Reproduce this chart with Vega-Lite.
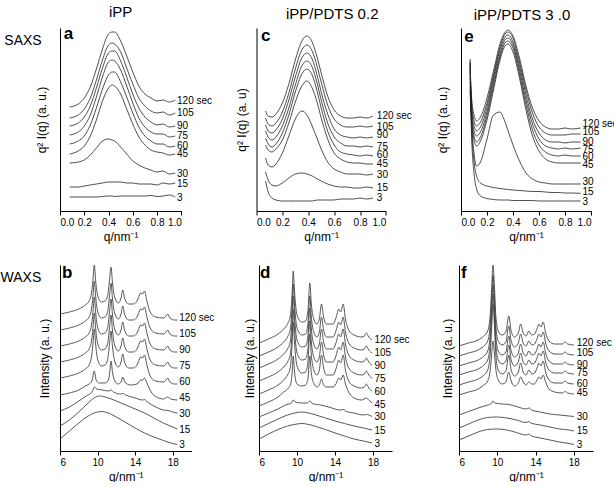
{
"$schema": "https://vega.github.io/schema/vega-lite/v6.json",
"padding": {"top": 5, "left": 0, "right": 0, "bottom": 0},
"spacing": 21,
"config": {
 "view": {"stroke": null},
 "font": "Liberation Sans",
 "axis": {"grid": false, "domainColor": "#000", "tickColor": "#000", "labelColor": "#000", "titleColor": "#000", "labelFontSize": 10, "titleFontSize": 12, "titleFontWeight": "normal", "tickSize": 4, "labelPadding": 2},
 "title": {"fontSize": 15, "fontWeight": "normal", "color": "#000", "offset": 5},
 "text": {"color": "#000"}
},
"datasets": {
"d": [
{"s":"a120","q":0.08,"y":104},{"s":"a120","q":0.15,"y":107},{"s":"a120","q":0.2,"y":113},{"s":"a120","q":0.25,"y":124},{"s":"a120","q":0.3,"y":142},{"s":"a120","q":0.35,"y":162},{"s":"a120","q":0.4,"y":177},{"s":"a120","q":0.43,"y":179},{"s":"a120","q":0.45,"y":179},{"s":"a120","q":0.5,"y":170},{"s":"a120","q":0.55,"y":155},{"s":"a120","q":0.6,"y":139},{"s":"a120","q":0.65,"y":125},{"s":"a120","q":0.7,"y":117},{"s":"a120","q":0.75,"y":113},{"s":"a120","q":0.8,"y":110},{"s":"a120","q":0.85,"y":111},{"s":"a120","q":0.9,"y":109},{"s":"a120","q":0.95,"y":111},
{"s":"a105","q":0.08,"y":93},{"s":"a105","q":0.15,"y":96},{"s":"a105","q":0.2,"y":102},{"s":"a105","q":0.25,"y":113},{"s":"a105","q":0.3,"y":131},{"s":"a105","q":0.35,"y":151},{"s":"a105","q":0.4,"y":166},{"s":"a105","q":0.43,"y":168},{"s":"a105","q":0.45,"y":167},{"s":"a105","q":0.5,"y":159},{"s":"a105","q":0.55,"y":143},{"s":"a105","q":0.6,"y":127},{"s":"a105","q":0.65,"y":113},{"s":"a105","q":0.7,"y":105},{"s":"a105","q":0.75,"y":100},{"s":"a105","q":0.8,"y":98},{"s":"a105","q":0.85,"y":99},{"s":"a105","q":0.9,"y":96},{"s":"a105","q":0.95,"y":98},
{"s":"a90","q":0.08,"y":85},{"s":"a90","q":0.15,"y":88},{"s":"a90","q":0.2,"y":94},{"s":"a90","q":0.25,"y":105},{"s":"a90","q":0.3,"y":123},{"s":"a90","q":0.35,"y":143},{"s":"a90","q":0.4,"y":158},{"s":"a90","q":0.43,"y":160},{"s":"a90","q":0.45,"y":160},{"s":"a90","q":0.5,"y":150},{"s":"a90","q":0.55,"y":134},{"s":"a90","q":0.6,"y":117},{"s":"a90","q":0.65,"y":103},{"s":"a90","q":0.7,"y":94},{"s":"a90","q":0.75,"y":89},{"s":"a90","q":0.8,"y":86},{"s":"a90","q":0.85,"y":87},{"s":"a90","q":0.9,"y":84},{"s":"a90","q":0.95,"y":85},
{"s":"a75","q":0.08,"y":76},{"s":"a75","q":0.15,"y":79},{"s":"a75","q":0.2,"y":85},{"s":"a75","q":0.25,"y":96},{"s":"a75","q":0.3,"y":114},{"s":"a75","q":0.35,"y":134},{"s":"a75","q":0.4,"y":149},{"s":"a75","q":0.43,"y":151},{"s":"a75","q":0.45,"y":150},{"s":"a75","q":0.5,"y":141},{"s":"a75","q":0.55,"y":125},{"s":"a75","q":0.6,"y":108},{"s":"a75","q":0.65,"y":93},{"s":"a75","q":0.7,"y":84},{"s":"a75","q":0.75,"y":79},{"s":"a75","q":0.8,"y":77},{"s":"a75","q":0.85,"y":77},{"s":"a75","q":0.9,"y":74},{"s":"a75","q":0.95,"y":75},
{"s":"a60","q":0.08,"y":67},{"s":"a60","q":0.15,"y":70},{"s":"a60","q":0.2,"y":75},{"s":"a60","q":0.25,"y":86},{"s":"a60","q":0.3,"y":103},{"s":"a60","q":0.35,"y":122},{"s":"a60","q":0.4,"y":136},{"s":"a60","q":0.43,"y":139},{"s":"a60","q":0.45,"y":139},{"s":"a60","q":0.5,"y":129},{"s":"a60","q":0.55,"y":114},{"s":"a60","q":0.6,"y":98},{"s":"a60","q":0.65,"y":84},{"s":"a60","q":0.7,"y":75},{"s":"a60","q":0.75,"y":70},{"s":"a60","q":0.8,"y":67},{"s":"a60","q":0.85,"y":67},{"s":"a60","q":0.9,"y":64},{"s":"a60","q":0.95,"y":65},
{"s":"a45","q":0.08,"y":57},{"s":"a45","q":0.15,"y":60},{"s":"a45","q":0.2,"y":65},{"s":"a45","q":0.25,"y":75},{"s":"a45","q":0.3,"y":91},{"s":"a45","q":0.35,"y":110},{"s":"a45","q":0.4,"y":123},{"s":"a45","q":0.43,"y":126},{"s":"a45","q":0.45,"y":125},{"s":"a45","q":0.5,"y":117},{"s":"a45","q":0.55,"y":102},{"s":"a45","q":0.6,"y":87},{"s":"a45","q":0.65,"y":74},{"s":"a45","q":0.7,"y":66},{"s":"a45","q":0.75,"y":61},{"s":"a45","q":0.8,"y":59},{"s":"a45","q":0.85,"y":58},{"s":"a45","q":0.9,"y":56},{"s":"a45","q":0.95,"y":57},
{"s":"a30","q":0.08,"y":48},{"s":"a30","q":0.15,"y":49},{"s":"a30","q":0.2,"y":51},{"s":"a30","q":0.25,"y":56},{"s":"a30","q":0.3,"y":63},{"s":"a30","q":0.35,"y":70},{"s":"a30","q":0.4,"y":72},{"s":"a30","q":0.43,"y":71},{"s":"a30","q":0.45,"y":70},{"s":"a30","q":0.5,"y":64},{"s":"a30","q":0.55,"y":57},{"s":"a30","q":0.6,"y":50},{"s":"a30","q":0.65,"y":46},{"s":"a30","q":0.7,"y":43},{"s":"a30","q":0.75,"y":41},{"s":"a30","q":0.8,"y":39},{"s":"a30","q":0.85,"y":40},{"s":"a30","q":0.9,"y":37},{"s":"a30","q":0.95,"y":38},
{"s":"a15","q":0.08,"y":24},{"s":"a15","q":0.15,"y":24},{"s":"a15","q":0.2,"y":25},{"s":"a15","q":0.25,"y":26},{"s":"a15","q":0.3,"y":27},{"s":"a15","q":0.35,"y":28},{"s":"a15","q":0.4,"y":29},{"s":"a15","q":0.43,"y":29},{"s":"a15","q":0.45,"y":29},{"s":"a15","q":0.5,"y":29},{"s":"a15","q":0.55,"y":28},{"s":"a15","q":0.6,"y":28},{"s":"a15","q":0.65,"y":27},{"s":"a15","q":0.7,"y":27},{"s":"a15","q":0.75,"y":27},{"s":"a15","q":0.8,"y":26},{"s":"a15","q":0.85,"y":28},{"s":"a15","q":0.9,"y":27},{"s":"a15","q":0.95,"y":28},
{"s":"a3","q":0.08,"y":14},{"s":"a3","q":0.15,"y":14},{"s":"a3","q":0.2,"y":14},{"s":"a3","q":0.25,"y":14},{"s":"a3","q":0.3,"y":14},{"s":"a3","q":0.35,"y":14.5},{"s":"a3","q":0.4,"y":15},{"s":"a3","q":0.43,"y":15},{"s":"a3","q":0.45,"y":14.5},{"s":"a3","q":0.5,"y":15},{"s":"a3","q":0.55,"y":15},{"s":"a3","q":0.6,"y":15},{"s":"a3","q":0.65,"y":15},{"s":"a3","q":0.7,"y":15},{"s":"a3","q":0.75,"y":15.5},{"s":"a3","q":0.8,"y":14.5},{"s":"a3","q":0.85,"y":15},{"s":"a3","q":0.9,"y":16},{"s":"a3","q":0.95,"y":14},
{"s":"c120","q":0.07,"y":100},{"s":"c120","q":0.09,"y":95},{"s":"c120","q":0.12,"y":94},{"s":"c120","q":0.15,"y":97},{"s":"c120","q":0.2,"y":108},{"s":"c120","q":0.25,"y":127},{"s":"c120","q":0.3,"y":151},{"s":"c120","q":0.35,"y":170},{"s":"c120","q":0.39,"y":175},{"s":"c120","q":0.43,"y":169},{"s":"c120","q":0.47,"y":153},{"s":"c120","q":0.5,"y":138},{"s":"c120","q":0.55,"y":115},{"s":"c120","q":0.6,"y":101},{"s":"c120","q":0.65,"y":95},{"s":"c120","q":0.7,"y":93},{"s":"c120","q":0.75,"y":93},{"s":"c120","q":0.8,"y":94},{"s":"c120","q":0.85,"y":93},{"s":"c120","q":0.9,"y":95},
{"s":"c105","q":0.07,"y":93},{"s":"c105","q":0.09,"y":87},{"s":"c105","q":0.12,"y":85},{"s":"c105","q":0.15,"y":88},{"s":"c105","q":0.2,"y":99},{"s":"c105","q":0.25,"y":118},{"s":"c105","q":0.3,"y":142},{"s":"c105","q":0.35,"y":161},{"s":"c105","q":0.39,"y":166},{"s":"c105","q":0.43,"y":160},{"s":"c105","q":0.47,"y":144},{"s":"c105","q":0.5,"y":129},{"s":"c105","q":0.55,"y":106},{"s":"c105","q":0.6,"y":92},{"s":"c105","q":0.65,"y":86},{"s":"c105","q":0.7,"y":84},{"s":"c105","q":0.75,"y":84},{"s":"c105","q":0.8,"y":85},{"s":"c105","q":0.85,"y":84},{"s":"c105","q":0.9,"y":85},
{"s":"c90","q":0.07,"y":86},{"s":"c90","q":0.09,"y":80},{"s":"c90","q":0.12,"y":78},{"s":"c90","q":0.15,"y":81},{"s":"c90","q":0.2,"y":92},{"s":"c90","q":0.25,"y":111},{"s":"c90","q":0.3,"y":134},{"s":"c90","q":0.35,"y":153},{"s":"c90","q":0.39,"y":158},{"s":"c90","q":0.43,"y":152},{"s":"c90","q":0.47,"y":135},{"s":"c90","q":0.5,"y":119},{"s":"c90","q":0.55,"y":97},{"s":"c90","q":0.6,"y":82},{"s":"c90","q":0.65,"y":76},{"s":"c90","q":0.7,"y":74},{"s":"c90","q":0.75,"y":73},{"s":"c90","q":0.8,"y":74},{"s":"c90","q":0.85,"y":73},{"s":"c90","q":0.9,"y":74},
{"s":"c75","q":0.07,"y":80},{"s":"c75","q":0.09,"y":74},{"s":"c75","q":0.12,"y":71},{"s":"c75","q":0.15,"y":74},{"s":"c75","q":0.2,"y":85},{"s":"c75","q":0.25,"y":103},{"s":"c75","q":0.3,"y":126},{"s":"c75","q":0.35,"y":145},{"s":"c75","q":0.39,"y":150},{"s":"c75","q":0.43,"y":144},{"s":"c75","q":0.47,"y":127},{"s":"c75","q":0.5,"y":111},{"s":"c75","q":0.55,"y":88},{"s":"c75","q":0.6,"y":74},{"s":"c75","q":0.65,"y":68},{"s":"c75","q":0.7,"y":65},{"s":"c75","q":0.75,"y":65},{"s":"c75","q":0.8,"y":64},{"s":"c75","q":0.85,"y":65},{"s":"c75","q":0.9,"y":64},
{"s":"c60","q":0.07,"y":73},{"s":"c60","q":0.09,"y":67},{"s":"c60","q":0.12,"y":64},{"s":"c60","q":0.15,"y":67},{"s":"c60","q":0.2,"y":78},{"s":"c60","q":0.25,"y":96},{"s":"c60","q":0.3,"y":119},{"s":"c60","q":0.35,"y":137},{"s":"c60","q":0.39,"y":142},{"s":"c60","q":0.43,"y":136},{"s":"c60","q":0.47,"y":119},{"s":"c60","q":0.5,"y":103},{"s":"c60","q":0.55,"y":80},{"s":"c60","q":0.6,"y":66},{"s":"c60","q":0.65,"y":59},{"s":"c60","q":0.7,"y":57},{"s":"c60","q":0.75,"y":56},{"s":"c60","q":0.8,"y":55},{"s":"c60","q":0.85,"y":56},{"s":"c60","q":0.9,"y":55},
{"s":"c45","q":0.07,"y":66},{"s":"c45","q":0.09,"y":61},{"s":"c45","q":0.12,"y":59},{"s":"c45","q":0.15,"y":62},{"s":"c45","q":0.2,"y":71},{"s":"c45","q":0.25,"y":88},{"s":"c45","q":0.3,"y":109},{"s":"c45","q":0.35,"y":125},{"s":"c45","q":0.39,"y":130},{"s":"c45","q":0.43,"y":123},{"s":"c45","q":0.47,"y":108},{"s":"c45","q":0.5,"y":93},{"s":"c45","q":0.55,"y":72},{"s":"c45","q":0.6,"y":58},{"s":"c45","q":0.65,"y":52},{"s":"c45","q":0.7,"y":49},{"s":"c45","q":0.75,"y":48},{"s":"c45","q":0.8,"y":48},{"s":"c45","q":0.85,"y":47},{"s":"c45","q":0.9,"y":47},
{"s":"c30","q":0.07,"y":53},{"s":"c30","q":0.09,"y":46},{"s":"c30","q":0.12,"y":44},{"s":"c30","q":0.15,"y":47},{"s":"c30","q":0.2,"y":58},{"s":"c30","q":0.25,"y":75},{"s":"c30","q":0.3,"y":92},{"s":"c30","q":0.35,"y":100},{"s":"c30","q":0.39,"y":96},{"s":"c30","q":0.43,"y":85},{"s":"c30","q":0.47,"y":72},{"s":"c30","q":0.5,"y":62},{"s":"c30","q":0.55,"y":49},{"s":"c30","q":0.6,"y":42},{"s":"c30","q":0.65,"y":39},{"s":"c30","q":0.7,"y":37},{"s":"c30","q":0.75,"y":37},{"s":"c30","q":0.8,"y":37},{"s":"c30","q":0.85,"y":36},{"s":"c30","q":0.9,"y":37},
{"s":"c15","q":0.07,"y":39},{"s":"c15","q":0.09,"y":31},{"s":"c15","q":0.12,"y":26},{"s":"c15","q":0.15,"y":25},{"s":"c15","q":0.2,"y":28},{"s":"c15","q":0.25,"y":33},{"s":"c15","q":0.3,"y":37},{"s":"c15","q":0.35,"y":38},{"s":"c15","q":0.39,"y":37},{"s":"c15","q":0.43,"y":35},{"s":"c15","q":0.47,"y":32},{"s":"c15","q":0.5,"y":30},{"s":"c15","q":0.55,"y":27},{"s":"c15","q":0.6,"y":25},{"s":"c15","q":0.65,"y":24},{"s":"c15","q":0.7,"y":24},{"s":"c15","q":0.75,"y":23},{"s":"c15","q":0.8,"y":23},{"s":"c15","q":0.85,"y":24},{"s":"c15","q":0.9,"y":23},
{"s":"c3","q":0.07,"y":30},{"s":"c3","q":0.09,"y":19},{"s":"c3","q":0.12,"y":13},{"s":"c3","q":0.15,"y":11},{"s":"c3","q":0.2,"y":10},{"s":"c3","q":0.25,"y":10},{"s":"c3","q":0.3,"y":10},{"s":"c3","q":0.35,"y":10},{"s":"c3","q":0.39,"y":10},{"s":"c3","q":0.43,"y":10},{"s":"c3","q":0.47,"y":11},{"s":"c3","q":0.5,"y":11},{"s":"c3","q":0.55,"y":11},{"s":"c3","q":0.6,"y":11},{"s":"c3","q":0.65,"y":12},{"s":"c3","q":0.7,"y":12},{"s":"c3","q":0.75,"y":12},{"s":"c3","q":0.8,"y":13},{"s":"c3","q":0.85,"y":12},{"s":"c3","q":0.9,"y":13},
{"s":"e120","q":0.07,"y":145},{"s":"e120","q":0.08,"y":116},{"s":"e120","q":0.1,"y":96},{"s":"e120","q":0.12,"y":90},{"s":"e120","q":0.15,"y":94},{"s":"e120","q":0.2,"y":113},{"s":"e120","q":0.25,"y":140},{"s":"e120","q":0.3,"y":167},{"s":"e120","q":0.33,"y":177},{"s":"e120","q":0.36,"y":181},{"s":"e120","q":0.4,"y":175},{"s":"e120","q":0.45,"y":153},{"s":"e120","q":0.5,"y":125},{"s":"e120","q":0.55,"y":103},{"s":"e120","q":0.6,"y":90},{"s":"e120","q":0.65,"y":84},{"s":"e120","q":0.7,"y":82},{"s":"e120","q":0.75,"y":82},{"s":"e120","q":0.8,"y":83},{"s":"e120","q":0.85,"y":82},{"s":"e120","q":0.92,"y":83},
{"s":"e105","q":0.07,"y":140},{"s":"e105","q":0.08,"y":111},{"s":"e105","q":0.1,"y":90},{"s":"e105","q":0.12,"y":85},{"s":"e105","q":0.15,"y":89},{"s":"e105","q":0.2,"y":108},{"s":"e105","q":0.25,"y":136},{"s":"e105","q":0.3,"y":164},{"s":"e105","q":0.33,"y":175},{"s":"e105","q":0.36,"y":179},{"s":"e105","q":0.4,"y":173},{"s":"e105","q":0.45,"y":149},{"s":"e105","q":0.5,"y":121},{"s":"e105","q":0.55,"y":98},{"s":"e105","q":0.6,"y":84},{"s":"e105","q":0.65,"y":78},{"s":"e105","q":0.7,"y":76},{"s":"e105","q":0.75,"y":76},{"s":"e105","q":0.8,"y":76},{"s":"e105","q":0.85,"y":77},{"s":"e105","q":0.92,"y":77},
{"s":"e90","q":0.07,"y":135},{"s":"e90","q":0.08,"y":106},{"s":"e90","q":0.1,"y":85},{"s":"e90","q":0.12,"y":80},{"s":"e90","q":0.15,"y":84},{"s":"e90","q":0.2,"y":104},{"s":"e90","q":0.25,"y":133},{"s":"e90","q":0.3,"y":161},{"s":"e90","q":0.33,"y":172},{"s":"e90","q":0.36,"y":176},{"s":"e90","q":0.4,"y":169},{"s":"e90","q":0.45,"y":145},{"s":"e90","q":0.5,"y":116},{"s":"e90","q":0.55,"y":92},{"s":"e90","q":0.6,"y":78},{"s":"e90","q":0.65,"y":71},{"s":"e90","q":0.7,"y":69},{"s":"e90","q":0.75,"y":69},{"s":"e90","q":0.8,"y":68},{"s":"e90","q":0.85,"y":69},{"s":"e90","q":0.92,"y":69},
{"s":"e75","q":0.07,"y":129},{"s":"e75","q":0.08,"y":101},{"s":"e75","q":0.1,"y":80},{"s":"e75","q":0.12,"y":75},{"s":"e75","q":0.15,"y":79},{"s":"e75","q":0.2,"y":99},{"s":"e75","q":0.25,"y":129},{"s":"e75","q":0.3,"y":157},{"s":"e75","q":0.33,"y":169},{"s":"e75","q":0.36,"y":173},{"s":"e75","q":0.4,"y":166},{"s":"e75","q":0.45,"y":141},{"s":"e75","q":0.5,"y":111},{"s":"e75","q":0.55,"y":87},{"s":"e75","q":0.6,"y":72},{"s":"e75","q":0.65,"y":65},{"s":"e75","q":0.7,"y":63},{"s":"e75","q":0.75,"y":62},{"s":"e75","q":0.8,"y":63},{"s":"e75","q":0.85,"y":62},{"s":"e75","q":0.92,"y":63},
{"s":"e60","q":0.07,"y":124},{"s":"e60","q":0.08,"y":96},{"s":"e60","q":0.1,"y":75},{"s":"e60","q":0.12,"y":69},{"s":"e60","q":0.15,"y":74},{"s":"e60","q":0.2,"y":95},{"s":"e60","q":0.25,"y":125},{"s":"e60","q":0.3,"y":154},{"s":"e60","q":0.33,"y":166},{"s":"e60","q":0.36,"y":170},{"s":"e60","q":0.4,"y":163},{"s":"e60","q":0.45,"y":137},{"s":"e60","q":0.5,"y":106},{"s":"e60","q":0.55,"y":81},{"s":"e60","q":0.6,"y":66},{"s":"e60","q":0.65,"y":59},{"s":"e60","q":0.7,"y":56},{"s":"e60","q":0.75,"y":55},{"s":"e60","q":0.8,"y":56},{"s":"e60","q":0.85,"y":55},{"s":"e60","q":0.92,"y":55},
{"s":"e45","q":0.07,"y":120},{"s":"e45","q":0.08,"y":91},{"s":"e45","q":0.1,"y":71},{"s":"e45","q":0.12,"y":65},{"s":"e45","q":0.15,"y":70},{"s":"e45","q":0.2,"y":91},{"s":"e45","q":0.25,"y":121},{"s":"e45","q":0.3,"y":151},{"s":"e45","q":0.33,"y":163},{"s":"e45","q":0.36,"y":167},{"s":"e45","q":0.4,"y":159},{"s":"e45","q":0.45,"y":133},{"s":"e45","q":0.5,"y":101},{"s":"e45","q":0.55,"y":75},{"s":"e45","q":0.6,"y":60},{"s":"e45","q":0.65,"y":52},{"s":"e45","q":0.7,"y":49},{"s":"e45","q":0.75,"y":48},{"s":"e45","q":0.8,"y":48},{"s":"e45","q":0.85,"y":48},{"s":"e45","q":0.92,"y":48},
{"s":"e30","q":0.07,"y":152},{"s":"e30","q":0.08,"y":98},{"s":"e30","q":0.1,"y":58},{"s":"e30","q":0.12,"y":45},{"s":"e30","q":0.15,"y":49},{"s":"e30","q":0.2,"y":72},{"s":"e30","q":0.25,"y":96},{"s":"e30","q":0.3,"y":99},{"s":"e30","q":0.33,"y":92},{"s":"e30","q":0.36,"y":81},{"s":"e30","q":0.4,"y":66},{"s":"e30","q":0.45,"y":50},{"s":"e30","q":0.5,"y":38},{"s":"e30","q":0.55,"y":32},{"s":"e30","q":0.6,"y":29},{"s":"e30","q":0.65,"y":28},{"s":"e30","q":0.7,"y":27},{"s":"e30","q":0.75,"y":27},{"s":"e30","q":0.8,"y":27},{"s":"e30","q":0.85,"y":27},{"s":"e30","q":0.92,"y":27},
{"s":"e15","q":0.07,"y":150},{"s":"e15","q":0.08,"y":90},{"s":"e15","q":0.1,"y":50},{"s":"e15","q":0.12,"y":35},{"s":"e15","q":0.15,"y":28},{"s":"e15","q":0.2,"y":25},{"s":"e15","q":0.25,"y":23.5},{"s":"e15","q":0.3,"y":22.5},{"s":"e15","q":0.33,"y":22},{"s":"e15","q":0.36,"y":21.5},{"s":"e15","q":0.4,"y":21},{"s":"e15","q":0.45,"y":20.5},{"s":"e15","q":0.5,"y":20},{"s":"e15","q":0.55,"y":19.5},{"s":"e15","q":0.6,"y":19.5},{"s":"e15","q":0.65,"y":19},{"s":"e15","q":0.7,"y":18.5},{"s":"e15","q":0.75,"y":18.5},{"s":"e15","q":0.8,"y":18},{"s":"e15","q":0.85,"y":18},{"s":"e15","q":0.92,"y":17.6},
{"s":"e3","q":0.07,"y":148},{"s":"e3","q":0.08,"y":80},{"s":"e3","q":0.1,"y":38},{"s":"e3","q":0.12,"y":22},{"s":"e3","q":0.15,"y":15},{"s":"e3","q":0.2,"y":12.5},{"s":"e3","q":0.25,"y":11.5},{"s":"e3","q":0.3,"y":11},{"s":"e3","q":0.33,"y":11},{"s":"e3","q":0.36,"y":11},{"s":"e3","q":0.4,"y":10.5},{"s":"e3","q":0.45,"y":10.5},{"s":"e3","q":0.5,"y":10.5},{"s":"e3","q":0.55,"y":10.5},{"s":"e3","q":0.6,"y":10},{"s":"e3","q":0.65,"y":10},{"s":"e3","q":0.7,"y":10},{"s":"e3","q":0.75,"y":10},{"s":"e3","q":0.8,"y":10},{"s":"e3","q":0.85,"y":10},{"s":"e3","q":0.92,"y":10},
{"s":"b120","q":6,"y":137},{"s":"b120","q":7,"y":139},{"s":"b120","q":8,"y":142},{"s":"b120","q":8.7,"y":146},{"s":"b120","q":9.1,"y":150},{"s":"b120","q":9.35,"y":158},{"s":"b120","q":9.5,"y":170},{"s":"b120","q":9.65,"y":186},{"s":"b120","q":9.8,"y":170},{"s":"b120","q":10,"y":156},{"s":"b120","q":10.4,"y":149},{"s":"b120","q":10.8,"y":150},{"s":"b120","q":11.1,"y":157},{"s":"b120","q":11.28,"y":172},{"s":"b120","q":11.43,"y":184},{"s":"b120","q":11.6,"y":167},{"s":"b120","q":11.85,"y":153},{"s":"b120","q":12.2,"y":148},{"s":"b120","q":12.5,"y":153},{"s":"b120","q":12.68,"y":161},{"s":"b120","q":12.9,"y":152},{"s":"b120","q":13.3,"y":147},{"s":"b120","q":13.8,"y":147},{"s":"b120","q":14.2,"y":150},{"s":"b120","q":14.6,"y":158},{"s":"b120","q":14.8,"y":157},{"s":"b120","q":15,"y":160},{"s":"b120","q":15.25,"y":150},{"s":"b120","q":15.6,"y":139},{"s":"b120","q":16.2,"y":134},{"s":"b120","q":17,"y":133},{"s":"b120","q":17.3,"y":135},{"s":"b120","q":17.47,"y":137},{"s":"b120","q":17.7,"y":133},{"s":"b120","q":18.2,"y":131},{"s":"b120","q":18.5,"y":131},
{"s":"b105","q":6,"y":121},{"s":"b105","q":7,"y":123},{"s":"b105","q":8,"y":126},{"s":"b105","q":8.7,"y":130},{"s":"b105","q":9.1,"y":134},{"s":"b105","q":9.35,"y":142},{"s":"b105","q":9.5,"y":154},{"s":"b105","q":9.65,"y":170},{"s":"b105","q":9.8,"y":154},{"s":"b105","q":10,"y":140},{"s":"b105","q":10.4,"y":133},{"s":"b105","q":10.8,"y":134},{"s":"b105","q":11.1,"y":141},{"s":"b105","q":11.28,"y":156},{"s":"b105","q":11.43,"y":168},{"s":"b105","q":11.6,"y":151},{"s":"b105","q":11.85,"y":137},{"s":"b105","q":12.2,"y":132},{"s":"b105","q":12.5,"y":137},{"s":"b105","q":12.68,"y":145},{"s":"b105","q":12.9,"y":136},{"s":"b105","q":13.3,"y":131},{"s":"b105","q":13.8,"y":131},{"s":"b105","q":14.2,"y":134},{"s":"b105","q":14.6,"y":142},{"s":"b105","q":14.8,"y":141},{"s":"b105","q":15,"y":144},{"s":"b105","q":15.25,"y":134},{"s":"b105","q":15.6,"y":123},{"s":"b105","q":16.2,"y":118},{"s":"b105","q":17,"y":117},{"s":"b105","q":17.3,"y":119},{"s":"b105","q":17.47,"y":121},{"s":"b105","q":17.7,"y":117},{"s":"b105","q":18.2,"y":115},{"s":"b105","q":18.5,"y":115},
{"s":"b90","q":6,"y":105},{"s":"b90","q":7,"y":107},{"s":"b90","q":8,"y":110},{"s":"b90","q":8.7,"y":114},{"s":"b90","q":9.1,"y":118},{"s":"b90","q":9.35,"y":126},{"s":"b90","q":9.5,"y":138},{"s":"b90","q":9.65,"y":154},{"s":"b90","q":9.8,"y":138},{"s":"b90","q":10,"y":124},{"s":"b90","q":10.4,"y":117},{"s":"b90","q":10.8,"y":118},{"s":"b90","q":11.1,"y":125},{"s":"b90","q":11.28,"y":140},{"s":"b90","q":11.43,"y":152},{"s":"b90","q":11.6,"y":135},{"s":"b90","q":11.85,"y":121},{"s":"b90","q":12.2,"y":116},{"s":"b90","q":12.5,"y":121},{"s":"b90","q":12.68,"y":129},{"s":"b90","q":12.9,"y":120},{"s":"b90","q":13.3,"y":115},{"s":"b90","q":13.8,"y":115},{"s":"b90","q":14.2,"y":118},{"s":"b90","q":14.6,"y":126},{"s":"b90","q":14.8,"y":125},{"s":"b90","q":15,"y":128},{"s":"b90","q":15.25,"y":118},{"s":"b90","q":15.6,"y":107},{"s":"b90","q":16.2,"y":102},{"s":"b90","q":17,"y":101},{"s":"b90","q":17.3,"y":103},{"s":"b90","q":17.47,"y":105},{"s":"b90","q":17.7,"y":101},{"s":"b90","q":18.2,"y":99},{"s":"b90","q":18.5,"y":99},
{"s":"b75","q":6,"y":89},{"s":"b75","q":7,"y":91},{"s":"b75","q":8,"y":94},{"s":"b75","q":8.7,"y":98},{"s":"b75","q":9.1,"y":102},{"s":"b75","q":9.35,"y":110},{"s":"b75","q":9.5,"y":122},{"s":"b75","q":9.65,"y":138},{"s":"b75","q":9.8,"y":122},{"s":"b75","q":10,"y":108},{"s":"b75","q":10.4,"y":101},{"s":"b75","q":10.8,"y":102},{"s":"b75","q":11.1,"y":109},{"s":"b75","q":11.28,"y":124},{"s":"b75","q":11.43,"y":136},{"s":"b75","q":11.6,"y":119},{"s":"b75","q":11.85,"y":105},{"s":"b75","q":12.2,"y":100},{"s":"b75","q":12.5,"y":105},{"s":"b75","q":12.68,"y":113},{"s":"b75","q":12.9,"y":104},{"s":"b75","q":13.3,"y":99},{"s":"b75","q":13.8,"y":99},{"s":"b75","q":14.2,"y":102},{"s":"b75","q":14.6,"y":110},{"s":"b75","q":14.8,"y":109},{"s":"b75","q":15,"y":112},{"s":"b75","q":15.25,"y":102},{"s":"b75","q":15.6,"y":91},{"s":"b75","q":16.2,"y":86},{"s":"b75","q":17,"y":85},{"s":"b75","q":17.3,"y":87},{"s":"b75","q":17.47,"y":89},{"s":"b75","q":17.7,"y":85},{"s":"b75","q":18.2,"y":83},{"s":"b75","q":18.5,"y":83},
{"s":"b60","q":6,"y":73},{"s":"b60","q":7,"y":75},{"s":"b60","q":8,"y":78},{"s":"b60","q":8.7,"y":82},{"s":"b60","q":9.1,"y":86},{"s":"b60","q":9.35,"y":94},{"s":"b60","q":9.5,"y":106},{"s":"b60","q":9.65,"y":122},{"s":"b60","q":9.8,"y":106},{"s":"b60","q":10,"y":92},{"s":"b60","q":10.4,"y":85},{"s":"b60","q":10.8,"y":86},{"s":"b60","q":11.1,"y":93},{"s":"b60","q":11.28,"y":108},{"s":"b60","q":11.43,"y":120},{"s":"b60","q":11.6,"y":103},{"s":"b60","q":11.85,"y":89},{"s":"b60","q":12.2,"y":84},{"s":"b60","q":12.5,"y":89},{"s":"b60","q":12.68,"y":97},{"s":"b60","q":12.9,"y":88},{"s":"b60","q":13.3,"y":83},{"s":"b60","q":13.8,"y":83},{"s":"b60","q":14.2,"y":86},{"s":"b60","q":14.6,"y":94},{"s":"b60","q":14.8,"y":93},{"s":"b60","q":15,"y":96},{"s":"b60","q":15.25,"y":86},{"s":"b60","q":15.6,"y":75},{"s":"b60","q":16.2,"y":70},{"s":"b60","q":17,"y":69},{"s":"b60","q":17.3,"y":71},{"s":"b60","q":17.47,"y":73},{"s":"b60","q":17.7,"y":69},{"s":"b60","q":18.2,"y":67},{"s":"b60","q":18.5,"y":67},
{"s":"b45","q":6,"y":56},{"s":"b45","q":7,"y":58},{"s":"b45","q":8,"y":61},{"s":"b45","q":8.7,"y":65},{"s":"b45","q":9.1,"y":67},{"s":"b45","q":9.4,"y":70},{"s":"b45","q":9.65,"y":80},{"s":"b45","q":9.85,"y":71},{"s":"b45","q":10.2,"y":68},{"s":"b45","q":10.8,"y":68},{"s":"b45","q":11.15,"y":71},{"s":"b45","q":11.3,"y":79},{"s":"b45","q":11.43,"y":90},{"s":"b45","q":11.6,"y":78},{"s":"b45","q":11.85,"y":70},{"s":"b45","q":12.2,"y":67},{"s":"b45","q":12.5,"y":69},{"s":"b45","q":12.68,"y":74},{"s":"b45","q":12.9,"y":69},{"s":"b45","q":13.5,"y":66},{"s":"b45","q":14.2,"y":67},{"s":"b45","q":14.6,"y":71},{"s":"b45","q":14.8,"y":71},{"s":"b45","q":15,"y":73},{"s":"b45","q":15.3,"y":67},{"s":"b45","q":15.7,"y":59},{"s":"b45","q":16.3,"y":54},{"s":"b45","q":17,"y":52},{"s":"b45","q":17.47,"y":54},{"s":"b45","q":17.8,"y":52},{"s":"b45","q":18.5,"y":51},
{"s":"b30","q":6,"y":40},{"s":"b30","q":7,"y":44},{"s":"b30","q":8,"y":50},{"s":"b30","q":8.8,"y":55},{"s":"b30","q":9.4,"y":59},{"s":"b30","q":9.7,"y":64},{"s":"b30","q":9.9,"y":62},{"s":"b30","q":10.5,"y":61},{"s":"b30","q":11.2,"y":60},{"s":"b30","q":11.45,"y":61},{"s":"b30","q":11.7,"y":59},{"s":"b30","q":12.4,"y":57},{"s":"b30","q":12.7,"y":57.5},{"s":"b30","q":13,"y":56},{"s":"b30","q":14,"y":53},{"s":"b30","q":14.8,"y":51},{"s":"b30","q":15,"y":51.5},{"s":"b30","q":15.3,"y":49},{"s":"b30","q":16,"y":45},{"s":"b30","q":17,"y":41},{"s":"b30","q":17.5,"y":40.5},{"s":"b30","q":18,"y":39},{"s":"b30","q":18.5,"y":38},
{"s":"b15","q":6,"y":25},{"s":"b15","q":7,"y":31},{"s":"b15","q":8,"y":39},{"s":"b15","q":9,"y":48},{"s":"b15","q":9.8,"y":54},{"s":"b15","q":10.2,"y":55},{"s":"b15","q":11,"y":53.5},{"s":"b15","q":12,"y":50},{"s":"b15","q":13,"y":46},{"s":"b15","q":14,"y":42},{"s":"b15","q":15,"y":38},{"s":"b15","q":16,"y":33},{"s":"b15","q":17,"y":28},{"s":"b15","q":18,"y":24},{"s":"b15","q":18.5,"y":22},
{"s":"b3","q":6,"y":12},{"s":"b3","q":7,"y":20},{"s":"b3","q":8,"y":28},{"s":"b3","q":9,"y":35},{"s":"b3","q":10,"y":39},{"s":"b3","q":10.5,"y":39.5},{"s":"b3","q":11,"y":38.5},{"s":"b3","q":12,"y":34},{"s":"b3","q":13,"y":28.5},{"s":"b3","q":14,"y":23},{"s":"b3","q":15,"y":18},{"s":"b3","q":16,"y":14},{"s":"b3","q":17,"y":10.5},{"s":"b3","q":18,"y":7.5},{"s":"b3","q":18.5,"y":6.5},
{"s":"d120","q":6,"y":108},{"s":"d120","q":7,"y":112},{"s":"d120","q":8,"y":117},{"s":"d120","q":8.6,"y":122},{"s":"d120","q":9,"y":127},{"s":"d120","q":9.3,"y":135},{"s":"d120","q":9.5,"y":160},{"s":"d120","q":9.6,"y":180},{"s":"d120","q":9.75,"y":158},{"s":"d120","q":10,"y":136},{"s":"d120","q":10.5,"y":129},{"s":"d120","q":10.9,"y":130},{"s":"d120","q":11.15,"y":140},{"s":"d120","q":11.35,"y":168},{"s":"d120","q":11.5,"y":148},{"s":"d120","q":11.8,"y":131},{"s":"d120","q":12.1,"y":127},{"s":"d120","q":12.35,"y":132},{"s":"d120","q":12.58,"y":147},{"s":"d120","q":12.8,"y":134},{"s":"d120","q":13.1,"y":127},{"s":"d120","q":13.4,"y":127},{"s":"d120","q":13.8,"y":127},{"s":"d120","q":14.1,"y":133},{"s":"d120","q":14.4,"y":142},{"s":"d120","q":14.6,"y":139},{"s":"d120","q":14.86,"y":147},{"s":"d120","q":15.1,"y":132},{"s":"d120","q":15.5,"y":120},{"s":"d120","q":16,"y":116},{"s":"d120","q":16.8,"y":114},{"s":"d120","q":17.1,"y":115},{"s":"d120","q":17.3,"y":118},{"s":"d120","q":17.55,"y":114},{"s":"d120","q":17.9,"y":111},
{"s":"d105","q":6,"y":95},{"s":"d105","q":7,"y":99},{"s":"d105","q":8,"y":104},{"s":"d105","q":8.6,"y":109},{"s":"d105","q":9,"y":114},{"s":"d105","q":9.3,"y":122},{"s":"d105","q":9.5,"y":147},{"s":"d105","q":9.6,"y":167},{"s":"d105","q":9.75,"y":145},{"s":"d105","q":10,"y":123},{"s":"d105","q":10.5,"y":116},{"s":"d105","q":10.9,"y":117},{"s":"d105","q":11.15,"y":127},{"s":"d105","q":11.35,"y":155},{"s":"d105","q":11.5,"y":135},{"s":"d105","q":11.8,"y":118},{"s":"d105","q":12.1,"y":114},{"s":"d105","q":12.35,"y":119},{"s":"d105","q":12.58,"y":134},{"s":"d105","q":12.8,"y":121},{"s":"d105","q":13.1,"y":114},{"s":"d105","q":13.4,"y":114},{"s":"d105","q":13.8,"y":114},{"s":"d105","q":14.1,"y":120},{"s":"d105","q":14.4,"y":129},{"s":"d105","q":14.6,"y":126},{"s":"d105","q":14.86,"y":134},{"s":"d105","q":15.1,"y":119},{"s":"d105","q":15.5,"y":107},{"s":"d105","q":16,"y":103},{"s":"d105","q":16.8,"y":101},{"s":"d105","q":17.1,"y":102},{"s":"d105","q":17.3,"y":105},{"s":"d105","q":17.55,"y":101},{"s":"d105","q":17.9,"y":98},
{"s":"d90","q":6,"y":83},{"s":"d90","q":7,"y":87},{"s":"d90","q":8,"y":92},{"s":"d90","q":8.6,"y":97},{"s":"d90","q":9,"y":102},{"s":"d90","q":9.3,"y":110},{"s":"d90","q":9.5,"y":135},{"s":"d90","q":9.6,"y":155},{"s":"d90","q":9.75,"y":133},{"s":"d90","q":10,"y":111},{"s":"d90","q":10.5,"y":104},{"s":"d90","q":10.9,"y":105},{"s":"d90","q":11.15,"y":115},{"s":"d90","q":11.35,"y":143},{"s":"d90","q":11.5,"y":123},{"s":"d90","q":11.8,"y":106},{"s":"d90","q":12.1,"y":102},{"s":"d90","q":12.35,"y":107},{"s":"d90","q":12.58,"y":122},{"s":"d90","q":12.8,"y":109},{"s":"d90","q":13.1,"y":102},{"s":"d90","q":13.4,"y":102},{"s":"d90","q":13.8,"y":102},{"s":"d90","q":14.1,"y":108},{"s":"d90","q":14.4,"y":117},{"s":"d90","q":14.6,"y":114},{"s":"d90","q":14.86,"y":122},{"s":"d90","q":15.1,"y":107},{"s":"d90","q":15.5,"y":95},{"s":"d90","q":16,"y":91},{"s":"d90","q":16.8,"y":89},{"s":"d90","q":17.1,"y":90},{"s":"d90","q":17.3,"y":93},{"s":"d90","q":17.55,"y":89},{"s":"d90","q":17.9,"y":86},
{"s":"d75","q":6,"y":70},{"s":"d75","q":7,"y":74},{"s":"d75","q":8,"y":79},{"s":"d75","q":8.6,"y":84},{"s":"d75","q":9,"y":89},{"s":"d75","q":9.3,"y":97},{"s":"d75","q":9.5,"y":122},{"s":"d75","q":9.6,"y":142},{"s":"d75","q":9.75,"y":120},{"s":"d75","q":10,"y":98},{"s":"d75","q":10.5,"y":91},{"s":"d75","q":10.9,"y":92},{"s":"d75","q":11.15,"y":102},{"s":"d75","q":11.35,"y":130},{"s":"d75","q":11.5,"y":110},{"s":"d75","q":11.8,"y":93},{"s":"d75","q":12.1,"y":89},{"s":"d75","q":12.35,"y":94},{"s":"d75","q":12.58,"y":109},{"s":"d75","q":12.8,"y":96},{"s":"d75","q":13.1,"y":89},{"s":"d75","q":13.4,"y":89},{"s":"d75","q":13.8,"y":89},{"s":"d75","q":14.1,"y":95},{"s":"d75","q":14.4,"y":104},{"s":"d75","q":14.6,"y":101},{"s":"d75","q":14.86,"y":109},{"s":"d75","q":15.1,"y":94},{"s":"d75","q":15.5,"y":82},{"s":"d75","q":16,"y":78},{"s":"d75","q":16.8,"y":76},{"s":"d75","q":17.1,"y":77},{"s":"d75","q":17.3,"y":80},{"s":"d75","q":17.55,"y":76},{"s":"d75","q":17.9,"y":73},
{"s":"d60","q":6,"y":57},{"s":"d60","q":7,"y":61},{"s":"d60","q":8,"y":66},{"s":"d60","q":8.6,"y":71},{"s":"d60","q":9,"y":76},{"s":"d60","q":9.3,"y":84},{"s":"d60","q":9.5,"y":109},{"s":"d60","q":9.6,"y":129},{"s":"d60","q":9.75,"y":107},{"s":"d60","q":10,"y":85},{"s":"d60","q":10.5,"y":78},{"s":"d60","q":10.9,"y":79},{"s":"d60","q":11.15,"y":89},{"s":"d60","q":11.35,"y":117},{"s":"d60","q":11.5,"y":97},{"s":"d60","q":11.8,"y":80},{"s":"d60","q":12.1,"y":76},{"s":"d60","q":12.35,"y":81},{"s":"d60","q":12.58,"y":96},{"s":"d60","q":12.8,"y":83},{"s":"d60","q":13.1,"y":76},{"s":"d60","q":13.4,"y":76},{"s":"d60","q":13.8,"y":76},{"s":"d60","q":14.1,"y":82},{"s":"d60","q":14.4,"y":91},{"s":"d60","q":14.6,"y":88},{"s":"d60","q":14.86,"y":96},{"s":"d60","q":15.1,"y":81},{"s":"d60","q":15.5,"y":69},{"s":"d60","q":16,"y":65},{"s":"d60","q":16.8,"y":63},{"s":"d60","q":17.1,"y":64},{"s":"d60","q":17.3,"y":67},{"s":"d60","q":17.55,"y":63},{"s":"d60","q":17.9,"y":60},
{"s":"d45","q":6,"y":45},{"s":"d45","q":7,"y":49},{"s":"d45","q":8,"y":54},{"s":"d45","q":8.6,"y":59},{"s":"d45","q":9,"y":62},{"s":"d45","q":9.3,"y":66},{"s":"d45","q":9.5,"y":80},{"s":"d45","q":9.6,"y":95},{"s":"d45","q":9.75,"y":78},{"s":"d45","q":10,"y":67},{"s":"d45","q":10.5,"y":65},{"s":"d45","q":10.9,"y":66},{"s":"d45","q":11.15,"y":72},{"s":"d45","q":11.35,"y":95},{"s":"d45","q":11.5,"y":78},{"s":"d45","q":11.8,"y":67},{"s":"d45","q":12.1,"y":64},{"s":"d45","q":12.35,"y":66},{"s":"d45","q":12.58,"y":72},{"s":"d45","q":12.8,"y":66},{"s":"d45","q":13.1,"y":64},{"s":"d45","q":13.8,"y":64},{"s":"d45","q":14.1,"y":67},{"s":"d45","q":14.4,"y":73},{"s":"d45","q":14.6,"y":71},{"s":"d45","q":14.86,"y":76},{"s":"d45","q":15.1,"y":67},{"s":"d45","q":15.5,"y":58},{"s":"d45","q":16,"y":53},{"s":"d45","q":16.8,"y":51},{"s":"d45","q":17.3,"y":53},{"s":"d45","q":17.55,"y":51},{"s":"d45","q":17.9,"y":48},
{"s":"d30","q":6,"y":34},{"s":"d30","q":7,"y":38},{"s":"d30","q":8,"y":42},{"s":"d30","q":8.8,"y":46},{"s":"d30","q":9.4,"y":48},{"s":"d30","q":9.6,"y":51},{"s":"d30","q":9.8,"y":49},{"s":"d30","q":10.5,"y":48},{"s":"d30","q":11.1,"y":48},{"s":"d30","q":11.35,"y":50},{"s":"d30","q":11.6,"y":47.5},{"s":"d30","q":12.5,"y":46},{"s":"d30","q":13.5,"y":43.5},{"s":"d30","q":14.5,"y":41},{"s":"d30","q":14.86,"y":41.5},{"s":"d30","q":15.2,"y":39.5},{"s":"d30","q":16,"y":38},{"s":"d30","q":17,"y":36},{"s":"d30","q":17.3,"y":36.5},{"s":"d30","q":17.9,"y":34.5},
{"s":"d15","q":6,"y":23},{"s":"d15","q":7,"y":27.5},{"s":"d15","q":8,"y":32},{"s":"d15","q":9,"y":36},{"s":"d15","q":10,"y":38.5},{"s":"d15","q":10.5,"y":39},{"s":"d15","q":11,"y":38.5},{"s":"d15","q":12,"y":36},{"s":"d15","q":13,"y":33},{"s":"d15","q":14,"y":30},{"s":"d15","q":15,"y":27.5},{"s":"d15","q":16,"y":25},{"s":"d15","q":17,"y":23},{"s":"d15","q":17.9,"y":21},
{"s":"d3","q":6,"y":12},{"s":"d3","q":7,"y":17},{"s":"d3","q":8,"y":21.5},{"s":"d3","q":9,"y":25},{"s":"d3","q":10,"y":27},{"s":"d3","q":10.5,"y":27.5},{"s":"d3","q":11,"y":27},{"s":"d3","q":12,"y":24.5},{"s":"d3","q":13,"y":21.5},{"s":"d3","q":14,"y":18},{"s":"d3","q":15,"y":15},{"s":"d3","q":16,"y":12},{"s":"d3","q":17,"y":10},{"s":"d3","q":17.9,"y":8},
{"s":"f120","q":6,"y":105},{"s":"f120","q":7,"y":108},{"s":"f120","q":8,"y":111},{"s":"f120","q":8.6,"y":115},{"s":"f120","q":9,"y":120},{"s":"f120","q":9.25,"y":135},{"s":"f120","q":9.4,"y":160},{"s":"f120","q":9.55,"y":186},{"s":"f120","q":9.7,"y":165},{"s":"f120","q":9.85,"y":135},{"s":"f120","q":10.1,"y":120},{"s":"f120","q":10.5,"y":116},{"s":"f120","q":10.9,"y":119},{"s":"f120","q":11.2,"y":135},{"s":"f120","q":11.45,"y":120},{"s":"f120","q":11.8,"y":114},{"s":"f120","q":12.2,"y":118},{"s":"f120","q":12.44,"y":127},{"s":"f120","q":12.7,"y":118},{"s":"f120","q":13,"y":115},{"s":"f120","q":13.3,"y":120},{"s":"f120","q":13.6,"y":116},{"s":"f120","q":13.9,"y":117},{"s":"f120","q":14.15,"y":122},{"s":"f120","q":14.35,"y":127},{"s":"f120","q":14.55,"y":124},{"s":"f120","q":14.8,"y":129},{"s":"f120","q":15.05,"y":118},{"s":"f120","q":15.4,"y":110},{"s":"f120","q":16,"y":107},{"s":"f120","q":16.8,"y":107},{"s":"f120","q":17.1,"y":109},{"s":"f120","q":17.35,"y":107},{"s":"f120","q":18,"y":106},
{"s":"f105","q":6,"y":95},{"s":"f105","q":7,"y":98},{"s":"f105","q":8,"y":101},{"s":"f105","q":8.6,"y":105},{"s":"f105","q":9,"y":110},{"s":"f105","q":9.25,"y":125},{"s":"f105","q":9.4,"y":150},{"s":"f105","q":9.55,"y":176},{"s":"f105","q":9.7,"y":155},{"s":"f105","q":9.85,"y":125},{"s":"f105","q":10.1,"y":110},{"s":"f105","q":10.5,"y":106},{"s":"f105","q":10.9,"y":109},{"s":"f105","q":11.2,"y":125},{"s":"f105","q":11.45,"y":110},{"s":"f105","q":11.8,"y":104},{"s":"f105","q":12.2,"y":108},{"s":"f105","q":12.44,"y":117},{"s":"f105","q":12.7,"y":108},{"s":"f105","q":13,"y":105},{"s":"f105","q":13.3,"y":110},{"s":"f105","q":13.6,"y":106},{"s":"f105","q":13.9,"y":107},{"s":"f105","q":14.15,"y":112},{"s":"f105","q":14.35,"y":117},{"s":"f105","q":14.55,"y":114},{"s":"f105","q":14.8,"y":119},{"s":"f105","q":15.05,"y":108},{"s":"f105","q":15.4,"y":100},{"s":"f105","q":16,"y":97},{"s":"f105","q":16.8,"y":97},{"s":"f105","q":17.1,"y":99},{"s":"f105","q":17.35,"y":97},{"s":"f105","q":18,"y":96},
{"s":"f90","q":6,"y":85},{"s":"f90","q":7,"y":88},{"s":"f90","q":8,"y":91},{"s":"f90","q":8.6,"y":95},{"s":"f90","q":9,"y":100},{"s":"f90","q":9.25,"y":115},{"s":"f90","q":9.4,"y":140},{"s":"f90","q":9.55,"y":166},{"s":"f90","q":9.7,"y":145},{"s":"f90","q":9.85,"y":115},{"s":"f90","q":10.1,"y":100},{"s":"f90","q":10.5,"y":96},{"s":"f90","q":10.9,"y":99},{"s":"f90","q":11.2,"y":115},{"s":"f90","q":11.45,"y":100},{"s":"f90","q":11.8,"y":94},{"s":"f90","q":12.2,"y":98},{"s":"f90","q":12.44,"y":107},{"s":"f90","q":12.7,"y":98},{"s":"f90","q":13,"y":95},{"s":"f90","q":13.3,"y":100},{"s":"f90","q":13.6,"y":96},{"s":"f90","q":13.9,"y":97},{"s":"f90","q":14.15,"y":102},{"s":"f90","q":14.35,"y":107},{"s":"f90","q":14.55,"y":104},{"s":"f90","q":14.8,"y":109},{"s":"f90","q":15.05,"y":98},{"s":"f90","q":15.4,"y":90},{"s":"f90","q":16,"y":87},{"s":"f90","q":16.8,"y":87},{"s":"f90","q":17.1,"y":89},{"s":"f90","q":17.35,"y":87},{"s":"f90","q":18,"y":86},
{"s":"f75","q":6,"y":76},{"s":"f75","q":7,"y":79},{"s":"f75","q":8,"y":82},{"s":"f75","q":8.6,"y":86},{"s":"f75","q":9,"y":91},{"s":"f75","q":9.25,"y":106},{"s":"f75","q":9.4,"y":131},{"s":"f75","q":9.55,"y":157},{"s":"f75","q":9.7,"y":136},{"s":"f75","q":9.85,"y":106},{"s":"f75","q":10.1,"y":91},{"s":"f75","q":10.5,"y":87},{"s":"f75","q":10.9,"y":90},{"s":"f75","q":11.2,"y":106},{"s":"f75","q":11.45,"y":91},{"s":"f75","q":11.8,"y":85},{"s":"f75","q":12.2,"y":89},{"s":"f75","q":12.44,"y":98},{"s":"f75","q":12.7,"y":89},{"s":"f75","q":13,"y":86},{"s":"f75","q":13.3,"y":91},{"s":"f75","q":13.6,"y":87},{"s":"f75","q":13.9,"y":88},{"s":"f75","q":14.15,"y":93},{"s":"f75","q":14.35,"y":98},{"s":"f75","q":14.55,"y":95},{"s":"f75","q":14.8,"y":100},{"s":"f75","q":15.05,"y":89},{"s":"f75","q":15.4,"y":81},{"s":"f75","q":16,"y":78},{"s":"f75","q":16.8,"y":78},{"s":"f75","q":17.1,"y":80},{"s":"f75","q":17.35,"y":78},{"s":"f75","q":18,"y":77},
{"s":"f60","q":6,"y":66},{"s":"f60","q":7,"y":69},{"s":"f60","q":8,"y":72},{"s":"f60","q":8.6,"y":76},{"s":"f60","q":9,"y":81},{"s":"f60","q":9.25,"y":96},{"s":"f60","q":9.4,"y":121},{"s":"f60","q":9.55,"y":147},{"s":"f60","q":9.7,"y":126},{"s":"f60","q":9.85,"y":96},{"s":"f60","q":10.1,"y":81},{"s":"f60","q":10.5,"y":77},{"s":"f60","q":10.9,"y":80},{"s":"f60","q":11.2,"y":96},{"s":"f60","q":11.45,"y":81},{"s":"f60","q":11.8,"y":75},{"s":"f60","q":12.2,"y":79},{"s":"f60","q":12.44,"y":88},{"s":"f60","q":12.7,"y":79},{"s":"f60","q":13,"y":76},{"s":"f60","q":13.3,"y":81},{"s":"f60","q":13.6,"y":77},{"s":"f60","q":13.9,"y":78},{"s":"f60","q":14.15,"y":83},{"s":"f60","q":14.35,"y":88},{"s":"f60","q":14.55,"y":85},{"s":"f60","q":14.8,"y":90},{"s":"f60","q":15.05,"y":79},{"s":"f60","q":15.4,"y":71},{"s":"f60","q":16,"y":68},{"s":"f60","q":16.8,"y":68},{"s":"f60","q":17.1,"y":70},{"s":"f60","q":17.35,"y":68},{"s":"f60","q":18,"y":67},
{"s":"f45","q":6,"y":56},{"s":"f45","q":7,"y":59},{"s":"f45","q":8,"y":62},{"s":"f45","q":8.6,"y":66},{"s":"f45","q":9,"y":70},{"s":"f45","q":9.25,"y":80},{"s":"f45","q":9.4,"y":95},{"s":"f45","q":9.55,"y":110},{"s":"f45","q":9.7,"y":98},{"s":"f45","q":9.85,"y":82},{"s":"f45","q":10.1,"y":71},{"s":"f45","q":10.5,"y":67},{"s":"f45","q":10.9,"y":69},{"s":"f45","q":11.2,"y":79},{"s":"f45","q":11.45,"y":70},{"s":"f45","q":11.8,"y":65},{"s":"f45","q":12.2,"y":68},{"s":"f45","q":12.44,"y":74},{"s":"f45","q":12.7,"y":69},{"s":"f45","q":13,"y":66},{"s":"f45","q":13.3,"y":69},{"s":"f45","q":13.6,"y":67},{"s":"f45","q":13.9,"y":67},{"s":"f45","q":14.15,"y":71},{"s":"f45","q":14.35,"y":74},{"s":"f45","q":14.55,"y":72},{"s":"f45","q":14.8,"y":76},{"s":"f45","q":15.05,"y":69},{"s":"f45","q":15.4,"y":62},{"s":"f45","q":16,"y":59},{"s":"f45","q":16.8,"y":58},{"s":"f45","q":17.1,"y":59.5},{"s":"f45","q":17.35,"y":58},{"s":"f45","q":18,"y":57},
{"s":"f30","q":6,"y":36},{"s":"f30","q":7,"y":39.5},{"s":"f30","q":8,"y":43},{"s":"f30","q":9,"y":46},{"s":"f30","q":9.4,"y":47.5},{"s":"f30","q":9.55,"y":50},{"s":"f30","q":9.75,"y":48},{"s":"f30","q":10.5,"y":47},{"s":"f30","q":11.2,"y":46.5},{"s":"f30","q":12,"y":44.5},{"s":"f30","q":13,"y":42},{"s":"f30","q":13.3,"y":43},{"s":"f30","q":13.6,"y":41},{"s":"f30","q":14.5,"y":39},{"s":"f30","q":15.5,"y":37},{"s":"f30","q":16.5,"y":36},{"s":"f30","q":17.5,"y":35},{"s":"f30","q":18,"y":34.5},
{"s":"f15","q":6,"y":23},{"s":"f15","q":7,"y":27},{"s":"f15","q":8,"y":31},{"s":"f15","q":9,"y":33.5},{"s":"f15","q":10,"y":34},{"s":"f15","q":11,"y":33},{"s":"f15","q":12,"y":31},{"s":"f15","q":13,"y":28.5},{"s":"f15","q":13.3,"y":29.5},{"s":"f15","q":13.5,"y":28},{"s":"f15","q":14.5,"y":26},{"s":"f15","q":15.5,"y":24},{"s":"f15","q":16.5,"y":22},{"s":"f15","q":17.5,"y":21},{"s":"f15","q":18,"y":20},
{"s":"f3","q":6,"y":11},{"s":"f3","q":7,"y":15},{"s":"f3","q":8,"y":19},{"s":"f3","q":9,"y":21.5},{"s":"f3","q":10,"y":22},{"s":"f3","q":11,"y":21},{"s":"f3","q":12,"y":18.5},{"s":"f3","q":13,"y":16},{"s":"f3","q":13.3,"y":17},{"s":"f3","q":13.5,"y":15.5},{"s":"f3","q":14.5,"y":13},{"s":"f3","q":15.5,"y":11},{"s":"f3","q":16.5,"y":9},{"s":"f3","q":17.5,"y":7.5},{"s":"f3","q":18,"y":6.5}
],
"l": [
{"s":"a","q":0.965,"y":110,"lab":"120 sec"},{"s":"a","q":0.965,"y":98,"lab":"105"},{"s":"a","q":0.965,"y":85,"lab":"90"},{"s":"a","q":0.965,"y":75,"lab":"75"},{"s":"a","q":0.965,"y":65,"lab":"60"},{"s":"a","q":0.965,"y":57,"lab":"45"},{"s":"a","q":0.965,"y":37,"lab":"30"},{"s":"a","q":0.965,"y":27,"lab":"15"},{"s":"a","q":0.965,"y":13,"lab":"3"},
{"s":"c","q":0.93,"y":95,"lab":"120 sec"},{"s":"c","q":0.93,"y":84,"lab":"105"},{"s":"c","q":0.93,"y":75.7,"lab":"90"},{"s":"c","q":0.93,"y":64,"lab":"75"},{"s":"c","q":0.93,"y":56,"lab":"60"},{"s":"c","q":0.93,"y":46.7,"lab":"45"},{"s":"c","q":0.93,"y":36,"lab":"30"},{"s":"c","q":0.93,"y":23.3,"lab":"15"},{"s":"c","q":0.93,"y":12.7,"lab":"3"},
{"s":"e","q":0.935,"y":86.6,"lab":"120 sec"},{"s":"e","q":0.935,"y":79.3,"lab":"105"},{"s":"e","q":0.935,"y":69.3,"lab":"90"},{"s":"e","q":0.935,"y":61,"lab":"75"},{"s":"e","q":0.935,"y":54.3,"lab":"60"},{"s":"e","q":0.935,"y":46,"lab":"45"},{"s":"e","q":0.935,"y":29.3,"lab":"30"},{"s":"e","q":0.935,"y":18.6,"lab":"15"},{"s":"e","q":0.935,"y":9.3,"lab":"3"},
{"s":"b","q":18.7,"y":132.7,"lab":"120 sec"},{"s":"b","q":18.7,"y":116.7,"lab":"105"},{"s":"b","q":18.7,"y":100.7,"lab":"90"},{"s":"b","q":18.7,"y":84.7,"lab":"75"},{"s":"b","q":18.7,"y":68.7,"lab":"60"},{"s":"b","q":18.7,"y":53,"lab":"45"},{"s":"b","q":18.7,"y":37,"lab":"30"},{"s":"b","q":18.7,"y":21.2,"lab":"15"},{"s":"b","q":18.7,"y":5.7,"lab":"3"},
{"s":"d","q":18.15,"y":110.7,"lab":"120 sec"},{"s":"d","q":18.15,"y":98,"lab":"105"},{"s":"d","q":18.15,"y":85.4,"lab":"90"},{"s":"d","q":18.15,"y":72,"lab":"75"},{"s":"d","q":18.15,"y":58.7,"lab":"60"},{"s":"d","q":18.15,"y":46,"lab":"45"},{"s":"d","q":18.15,"y":33.7,"lab":"30"},{"s":"d","q":18.15,"y":20.4,"lab":"15"},{"s":"d","q":18.15,"y":7,"lab":"3"},
{"s":"f","q":18.3,"y":108.5,"lab":"120 sec"},{"s":"f","q":18.3,"y":98.4,"lab":"105"},{"s":"f","q":18.3,"y":86.4,"lab":"90"},{"s":"f","q":18.3,"y":77.7,"lab":"75"},{"s":"f","q":18.3,"y":67,"lab":"60"},{"s":"f","q":18.3,"y":58,"lab":"45"},{"s":"f","q":18.3,"y":34.4,"lab":"30"},{"s":"f","q":18.3,"y":19.7,"lab":"15"},{"s":"f","q":18.3,"y":6.4,"lab":"3"}
],
"k": [
{"s":"a","q":0.03,"y":177,"lab":"a"},{"s":"c","q":0.035,"y":175,"lab":"c"},{"s":"e","q":0.025,"y":174,"lab":"e"},
{"s":"b","q":6.2,"y":178,"lab":"b"},{"s":"d","q":6.1,"y":178.5,"lab":"d"},{"s":"f","q":6.2,"y":178,"lab":"f"}
]
},
"vconcat": [
{"hconcat": [
 {"width": 121.3, "height": 183, "title": {"text": "iPP", "frame": "group"},
  "encoding": {"x": {"field": "q", "type": "quantitative", "scale": {"domain": [0, 1]}, "axis": {"values": [0, 0.2, 0.4, 0.6, 0.8, 1], "format": ".1f", "title": "q/nm⁻¹"}},
               "y": {"field": "y", "type": "quantitative", "scale": {"domain": [0, 183]}, "axis": {"labels": false, "ticks": false, "title": "q² I(q) (a. u.)", "titlePadding": 12}}},
  "layer": [
   {"data": {"name": "d"}, "transform": [{"filter": "substring(datum.s,0,1)=='a'"}], "mark": {"type": "line", "interpolate": "monotone", "color": "#222", "strokeWidth": 0.8}, "encoding": {"detail": {"field": "s"}}},
   {"data": {"name": "l"}, "transform": [{"filter": "datum.s=='a'"}], "mark": {"type": "text", "align": "left", "fontSize": 10}, "encoding": {"text": {"field": "lab"}}},
   {"data": {"name": "k"}, "transform": [{"filter": "datum.s=='a'"}], "mark": {"type": "text", "align": "left", "fontSize": 17, "fontWeight": "bold"}, "encoding": {"text": {"field": "lab"}}}
  ]},
 {"width": 129.4, "height": 183, "title": {"text": "iPP/PDTS 0.2", "frame": "group", "dx": 11},
  "encoding": {"x": {"field": "q", "type": "quantitative", "scale": {"domain": [0, 1]}, "axis": {"values": [0, 0.2, 0.4, 0.6, 0.8, 1], "format": ".1f", "title": "q/nm⁻¹"}},
               "y": {"field": "y", "type": "quantitative", "scale": {"domain": [0, 183]}, "axis": {"labels": false, "ticks": false, "title": "q² I(q) (a. u)", "titlePadding": 8}}},
  "layer": [
   {"data": {"name": "d"}, "transform": [{"filter": "substring(datum.s,0,1)=='c'"}], "mark": {"type": "line", "interpolate": "monotone", "color": "#222", "strokeWidth": 0.8}, "encoding": {"detail": {"field": "s"}}},
   {"data": {"name": "l"}, "transform": [{"filter": "datum.s=='c'"}], "mark": {"type": "text", "align": "left", "fontSize": 10}, "encoding": {"text": {"field": "lab"}}},
   {"data": {"name": "k"}, "transform": [{"filter": "datum.s=='c'"}], "mark": {"type": "text", "align": "left", "fontSize": 17, "fontWeight": "bold"}, "encoding": {"text": {"field": "lab"}}}
  ]},
 {"width": 130, "height": 183, "title": {"text": "iPP/PDTS 3 .0", "frame": "group", "dx": -4},
  "encoding": {"x": {"field": "q", "type": "quantitative", "scale": {"domain": [0, 1]}, "axis": {"values": [0, 0.2, 0.4, 0.6, 0.8, 1], "format": ".1f", "title": "q/nm⁻¹"}},
               "y": {"field": "y", "type": "quantitative", "scale": {"domain": [0, 183]}, "axis": {"labels": false, "ticks": false, "title": "q² I(q) (a. u.)", "titlePadding": 12}}},
  "layer": [
   {"data": {"name": "d"}, "transform": [{"filter": "substring(datum.s,0,1)=='e'"}], "mark": {"type": "line", "interpolate": "monotone", "color": "#222", "strokeWidth": 0.8}, "encoding": {"detail": {"field": "s"}}},
   {"data": {"name": "l"}, "transform": [{"filter": "datum.s=='e'"}], "mark": {"type": "text", "align": "left", "fontSize": 10}, "encoding": {"text": {"field": "lab"}}},
   {"data": {"name": "k"}, "transform": [{"filter": "datum.s=='e'"}], "mark": {"type": "text", "align": "left", "fontSize": 17, "fontWeight": "bold"}, "encoding": {"text": {"field": "lab"}}}
  ]}
 ], "spacing": 74.5, "bounds": "flush",
 "title": {"text": "SAXS", "orient": "left", "anchor": "end", "angle": 0, "align": "right", "baseline": "top", "fontSize": 14, "offset": -44, "dy": 6, "frame": "group"}},
{"hconcat": [
 {"width": 131.5, "height": 186,
  "encoding": {"x": {"field": "q", "type": "quantitative", "scale": {"domain": [6, 20]}, "axis": {"values": [6, 10, 14, 18], "title": "q/nm⁻¹"}},
               "y": {"field": "y", "type": "quantitative", "scale": {"domain": [0, 186]}, "axis": {"labels": false, "ticks": false, "title": "Intensity (a. u.)", "titlePadding": 9}}},
  "layer": [
   {"data": {"name": "d"}, "transform": [{"filter": "substring(datum.s,0,1)=='b'"}], "mark": {"type": "line", "interpolate": "monotone", "color": "#444", "strokeWidth": 0.9}, "encoding": {"detail": {"field": "s"}}},
   {"data": {"name": "l"}, "transform": [{"filter": "datum.s=='b'"}], "mark": {"type": "text", "align": "left", "fontSize": 10}, "encoding": {"text": {"field": "lab"}}},
   {"data": {"name": "k"}, "transform": [{"filter": "datum.s=='b'"}], "mark": {"type": "text", "align": "left", "fontSize": 17, "fontWeight": "bold"}, "encoding": {"text": {"field": "lab"}}}
  ]},
 {"width": 133, "height": 186,
  "encoding": {"x": {"field": "q", "type": "quantitative", "scale": {"domain": [6, 20]}, "axis": {"values": [6, 10, 14, 18], "title": "q/nm⁻¹"}},
               "y": {"field": "y", "type": "quantitative", "scale": {"domain": [0, 186]}, "axis": {"labels": false, "ticks": false, "title": "Intensity (a. u.)", "titlePadding": 3}}},
  "layer": [
   {"data": {"name": "d"}, "transform": [{"filter": "substring(datum.s,0,1)=='d'"}], "mark": {"type": "line", "interpolate": "monotone", "color": "#444", "strokeWidth": 0.9}, "encoding": {"detail": {"field": "s"}}},
   {"data": {"name": "l"}, "transform": [{"filter": "datum.s=='d'"}], "mark": {"type": "text", "align": "left", "fontSize": 10}, "encoding": {"text": {"field": "lab"}}},
   {"data": {"name": "k"}, "transform": [{"filter": "datum.s=='d'"}], "mark": {"type": "text", "align": "left", "fontSize": 17, "fontWeight": "bold"}, "encoding": {"text": {"field": "lab"}}}
  ]},
 {"width": 134, "height": 186,
  "encoding": {"x": {"field": "q", "type": "quantitative", "scale": {"domain": [6, 20]}, "axis": {"values": [6, 10, 14, 18], "title": "q/nm⁻¹"}},
               "y": {"field": "y", "type": "quantitative", "scale": {"domain": [0, 186]}, "axis": {"labels": false, "ticks": false, "title": "Intensity (a. u.)", "titlePadding": 5}}},
  "layer": [
   {"data": {"name": "d"}, "transform": [{"filter": "substring(datum.s,0,1)=='f'"}], "mark": {"type": "line", "interpolate": "monotone", "color": "#444", "strokeWidth": 0.9}, "encoding": {"detail": {"field": "s"}}},
   {"data": {"name": "l"}, "transform": [{"filter": "datum.s=='f'"}], "mark": {"type": "text", "align": "left", "fontSize": 10}, "encoding": {"text": {"field": "lab"}}},
   {"data": {"name": "k"}, "transform": [{"filter": "datum.s=='f'"}], "mark": {"type": "text", "align": "left", "fontSize": 17, "fontWeight": "bold"}, "encoding": {"text": {"field": "lab"}}}
  ]}
 ], "spacing": 67, "bounds": "flush",
 "title": {"text": "WAXS", "orient": "left", "anchor": "end", "angle": 0, "align": "right", "baseline": "top", "fontSize": 14, "offset": -44, "dy": 6, "frame": "group"}}
]
}
